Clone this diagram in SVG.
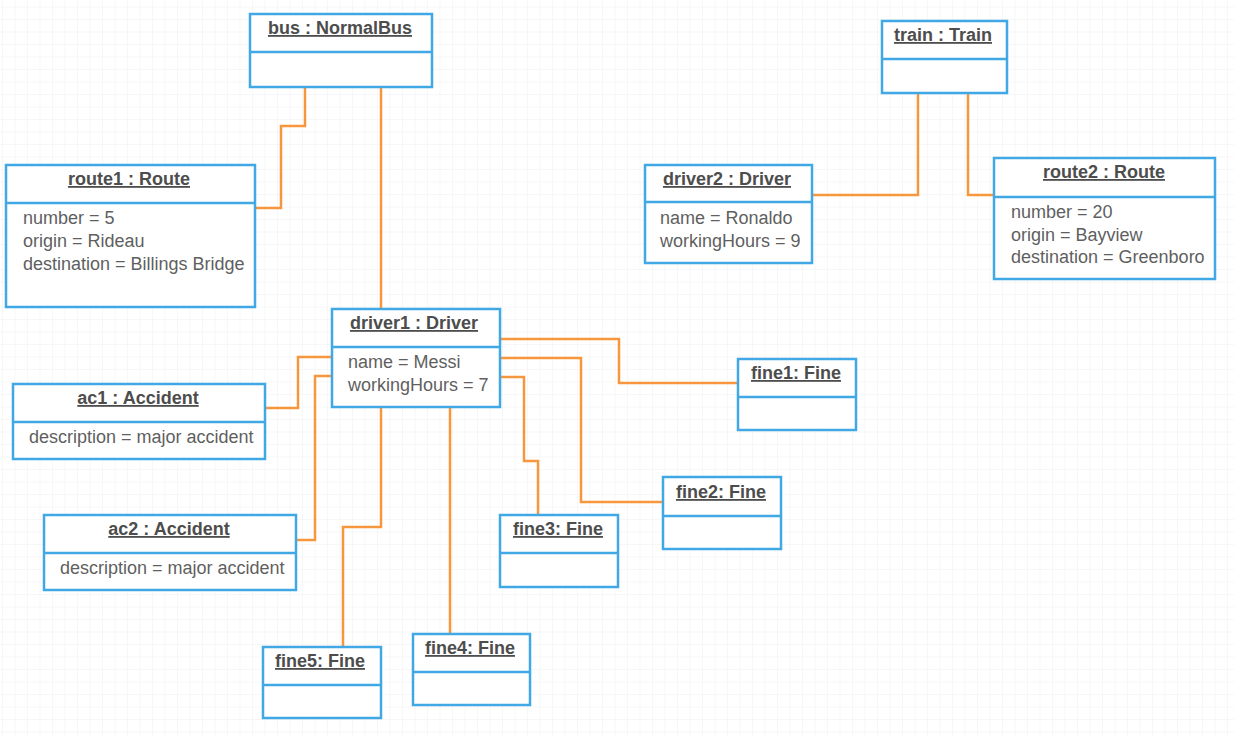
<svg xmlns="http://www.w3.org/2000/svg" width="1234" height="737" viewBox="0 0 1234 737">
<style>
.box{fill:#ffffff;stroke:#41a8e6;stroke-width:2.5}
.div{stroke:#41a8e6;stroke-width:2.5}
.t{font-family:"Liberation Sans",Arial,sans-serif;font-size:18px;font-weight:bold;fill:#4d4d4d;text-anchor:middle;text-decoration:underline}
.a{font-family:"Liberation Sans",Arial,sans-serif;font-size:18px;fill:#5f5f5f}
.c{fill:none;stroke:#f7963d;stroke-width:2.5}
</style>
<defs>
<pattern id="grid" x="3" y="7.5" width="12.5" height="12.5" patternUnits="userSpaceOnUse">
<path d="M12.5 0V12.5M0 12.5H12.5" fill="none" stroke="#f0f0f0" stroke-width="1"/>
</pattern>
</defs>
<rect width="1234" height="737" fill="#ffffff"/>
<rect width="1234" height="737" fill="url(#grid)"/>
<g id="connectors">
<path class="c" d="M305 87V126H281V208H255"/>
<path class="c" d="M381 87V309"/>
<path class="c" d="M918 93V195H812"/>
<path class="c" d="M968 93V195H994"/>
<path class="c" d="M332 357H298V408H265"/>
<path class="c" d="M332 376H315V540H296"/>
<path class="c" d="M381 407V527H343V647"/>
<path class="c" d="M450 407V634"/>
<path class="c" d="M500 339H619V383H738"/>
<path class="c" d="M500 358H581V502H663"/>
<path class="c" d="M500 377H524V461H538V515"/>
</g>
<g id="bus">
<rect class="box" x="250" y="14" width="182" height="73"/>
<line class="div" x1="250" y1="52" x2="432" y2="52"/>
<text class="t" x="340" y="34">bus : NormalBus</text>
</g>
<g id="route1">
<rect class="box" x="6" y="165" width="249" height="142"/>
<line class="div" x1="6" y1="203" x2="255" y2="203"/>
<text class="t" x="129" y="185">route1 : Route</text>
<text class="a" x="23" y="224">number = 5</text>
<text class="a" x="23" y="247">origin = Rideau</text>
<text class="a" x="23" y="270">destination = Billings Bridge</text>
</g>
<g id="train">
<rect class="box" x="882" y="21" width="125" height="72"/>
<line class="div" x1="882" y1="59" x2="1007" y2="59"/>
<text class="t" x="943" y="41">train : Train</text>
</g>
<g id="driver2">
<rect class="box" x="645" y="165" width="167" height="98"/>
<line class="div" x1="645" y1="202" x2="812" y2="202"/>
<text class="t" x="727" y="185">driver2 : Driver</text>
<text class="a" x="660" y="224">name = Ronaldo</text>
<text class="a" x="660" y="247">workingHours = 9</text>
</g>
<g id="route2">
<rect class="box" x="994" y="158" width="221" height="121"/>
<line class="div" x1="994" y1="197" x2="1215" y2="197"/>
<text class="t" x="1104" y="178">route2 : Route</text>
<text class="a" x="1011" y="218">number = 20</text>
<text class="a" x="1011" y="241">origin = Bayview</text>
<text class="a" x="1011" y="263">destination = Greenboro</text>
</g>
<g id="driver1">
<rect class="box" x="332" y="309" width="168" height="98"/>
<line class="div" x1="332" y1="347" x2="500" y2="347"/>
<text class="t" x="414" y="329">driver1 : Driver</text>
<text class="a" x="348" y="368">name = Messi</text>
<text class="a" x="348" y="391">workingHours = 7</text>
</g>
<g id="ac1">
<rect class="box" x="13" y="384" width="252" height="75"/>
<line class="div" x1="13" y1="422" x2="265" y2="422"/>
<text class="t" x="138" y="404">ac1 : Accident</text>
<text class="a" x="29" y="443">description = major accident</text>
</g>
<g id="ac2">
<rect class="box" x="44" y="515" width="252" height="75"/>
<line class="div" x1="44" y1="553" x2="296" y2="553"/>
<text class="t" x="169" y="535">ac2 : Accident</text>
<text class="a" x="60" y="574">description = major accident</text>
</g>
<g id="fine1">
<rect class="box" x="738" y="359" width="118" height="71"/>
<line class="div" x1="738" y1="397" x2="856" y2="397"/>
<text class="t" x="796" y="379">fine1: Fine</text>
</g>
<g id="fine2">
<rect class="box" x="663" y="477" width="118" height="72"/>
<line class="div" x1="663" y1="516" x2="781" y2="516"/>
<text class="t" x="721" y="498">fine2: Fine</text>
</g>
<g id="fine3">
<rect class="box" x="500" y="515" width="118" height="72"/>
<line class="div" x1="500" y1="553" x2="618" y2="553"/>
<text class="t" x="558" y="535">fine3: Fine</text>
</g>
<g id="fine4">
<rect class="box" x="413" y="634" width="117" height="71"/>
<line class="div" x1="413" y1="672" x2="530" y2="672"/>
<text class="t" x="470" y="654">fine4: Fine</text>
</g>
<g id="fine5">
<rect class="box" x="263" y="647" width="118" height="71"/>
<line class="div" x1="263" y1="685" x2="381" y2="685"/>
<text class="t" x="320" y="667">fine5: Fine</text>
</g>
</svg>
